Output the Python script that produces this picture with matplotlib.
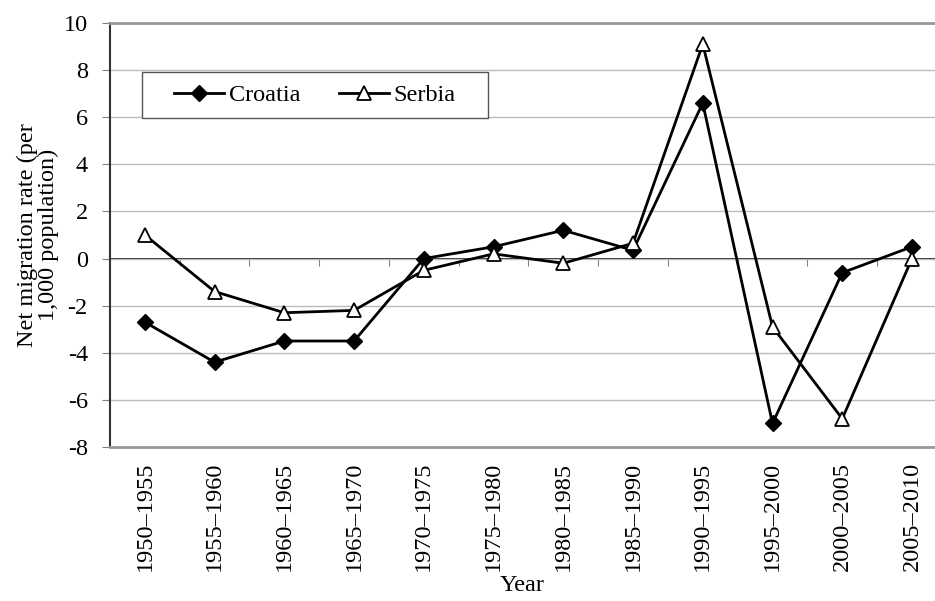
import matplotlib.pyplot as plt
from matplotlib.patches import Rectangle
import numpy as np

plt.rcParams['font.family'] = ['Liberation Serif', 'DejaVu Serif']
plt.rcParams['font.size'] = 17.5
plt.rcParams['axes.unicode_minus'] = False

# DATA
periods = ["1950–1955", "1955–1960", "1960–1965", "1965–1970", "1970–1975", "1975–1980",
           "1980–1985", "1985–1990", "1990–1995", "1995–2000", "2000–2005", "2005–2010"]
croatia = [-2.7, -4.4, -3.5, -3.5, 0.0, 0.5, 1.2, 0.35, 6.6, -7.0, -0.6, 0.5]
serbia = [1.0, -1.4, -2.3, -2.2, -0.5, 0.2, -0.2, 0.65, 9.1, -2.9, -6.8, 0.0]
y_ticks = [-8, -6, -4, -2, 0, 2, 4, 6, 8, 10]

x = np.arange(len(periods))

fig = plt.figure(figsize=(9.35, 6.01), dpi=100)
ax = fig.add_axes([110/935, 1 - 447/601, 1 - 110/935, 424/601])

ax.plot(x, croatia, color='black', lw=2, marker='D', ms=8, mfc='black', mec='black',
        label='Croatia', zorder=4)
ax.plot(x, serbia, color='black', lw=2, marker='^', ms=10, mfc='white', mec='black',
        mew=1.3, label='Serbia', zorder=4)

ax.set_ylim(-8, 10)
ax.set_xlim(-0.5, 11.33)
ax.set_yticks(y_ticks)
ax.grid(axis='y', color='#bbbbbb', lw=1)
ax.set_axisbelow(True)

ax.set_xticks(x)
ax.set_xticklabels(periods, rotation=90)
ax.tick_params(axis='x', length=0, pad=10.5)
ax.tick_params(axis='y', length=6, color='#808080', direction='out', pad=10)

for s in ['top', 'bottom']:
    ax.spines[s].set_color('#999999')
    ax.spines[s].set_linewidth(2)
ax.spines['right'].set_visible(False)
ax.spines['left'].set_color('#333333')
ax.spines['left'].set_linewidth(1.5)

# zero line with category boundary ticks
zero_ax = ax.secondary_xaxis(8 / 18)
zero_ax.set_xticks(np.arange(len(periods)) + 0.5)
zero_ax.set_xticklabels([])
zero_ax.tick_params(axis='x', direction='out', length=5, color='#808080')
zero_ax.spines['bottom'].set_color('black')
zero_ax.spines['bottom'].set_linewidth(1.2)

ax.set_ylabel("Net migration rate (per\n1,000 population)", labelpad=3, linespacing=1.0)
ax.set_xlabel("Year", labelpad=3)

# legend box
ax.add_patch(Rectangle((32/825, 329/424), 346/825, 46/424, transform=ax.transAxes,
                       facecolor='white', edgecolor='#555555', lw=1, zorder=5))
ax.legend(loc='center', bbox_to_anchor=(205/825, 352/424), ncol=2, frameon=False,
          handlelength=2.05, handletextpad=0.2, columnspacing=1.6, borderaxespad=0,
          fontsize=17.5).set_zorder(6)

fig.savefig("out.png", dpi=100)
